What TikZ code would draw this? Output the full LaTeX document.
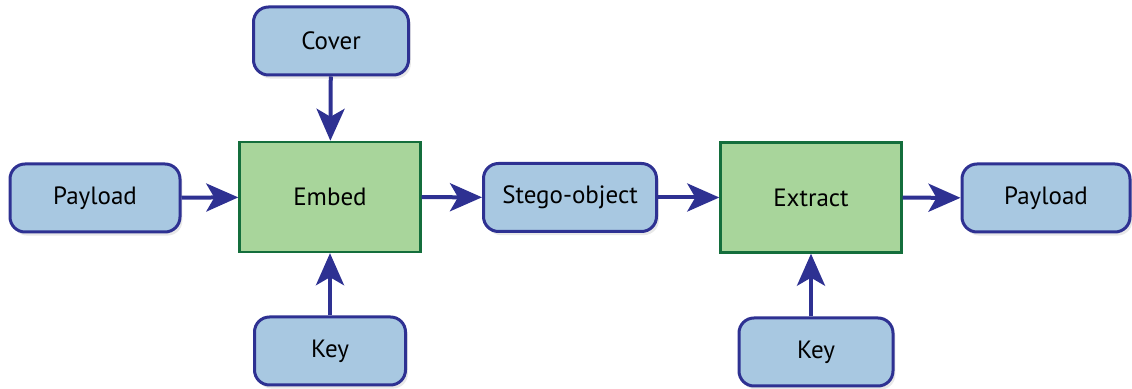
\documentclass[tikz,border=0pt]{standalone}
\usepackage{fontspec}
\setmainfont{PT Sans}
\usetikzlibrary{arrows.meta,shadows}
\definecolor{boxblue}{RGB}{168,200,225}
\definecolor{lineblue}{RGB}{46,49,146}
\definecolor{boxgreen}{RGB}{168,213,155}
\definecolor{linegreen}{RGB}{20,110,60}

\tikzset{
  data/.style={draw=lineblue, fill=boxblue, line width=1.5pt, rounded corners=7.5pt,
    minimum height=34pt, minimum width=85pt, font=\fontsize{12.5}{14}\selectfont,
    drop shadow={opacity=0.18, shadow xshift=1.2pt, shadow yshift=-1.8pt}},
  proc/.style={draw=linegreen, fill=boxgreen, line width=1.2pt,
    minimum height=55pt, minimum width=90.5pt, font=\fontsize{12.5}{14}\selectfont},
  flow/.style={draw=lineblue, line width=2pt, -{Stealth[length=16pt,width=14pt,inset=4pt]}}
}

\begin{document}
\begin{tikzpicture}[x=0.5pt, y=-0.5pt]
	\useasboundingbox (0,0) rectangle (1132,389);

	\node[data, minimum width=77.5pt] (cover) at (331, 41) {Cover};
	\node[data] (payloadIn) at (95, 198) {Payload};
	\node[proc] (embed) at (330, 197) {\raisebox{-1.5pt}{Embed}};
	\node[data, minimum width=75.5pt] (keyIn) at (330, 351) {Key};

	\node[data, minimum width=86.5pt] (stego) at (570, 197.5) {Stego-object};

	\node[proc] (extract) at (811, 197.5) {\raisebox{-2.5pt}{Extract}};
	\node[data, minimum width=77pt] (keyOut) at (816, 352) {Key};
	\node[data, minimum width=84pt] (payloadOut) at (1046, 198) {Payload};

	% embedding side
	\draw[flow] (cover) -- (embed);
	\draw[flow] (payloadIn) -- (embed);
	\draw[flow] (keyIn) -- (embed);

	% extraction side
	\draw[flow] (embed) -- (stego);
	\draw[flow] (stego) -- (extract);
	\draw[flow] (keyOut.north -| extract.south) -- (extract.south);
	\draw[flow] (extract) -- (payloadOut);
\end{tikzpicture}
\end{document}
